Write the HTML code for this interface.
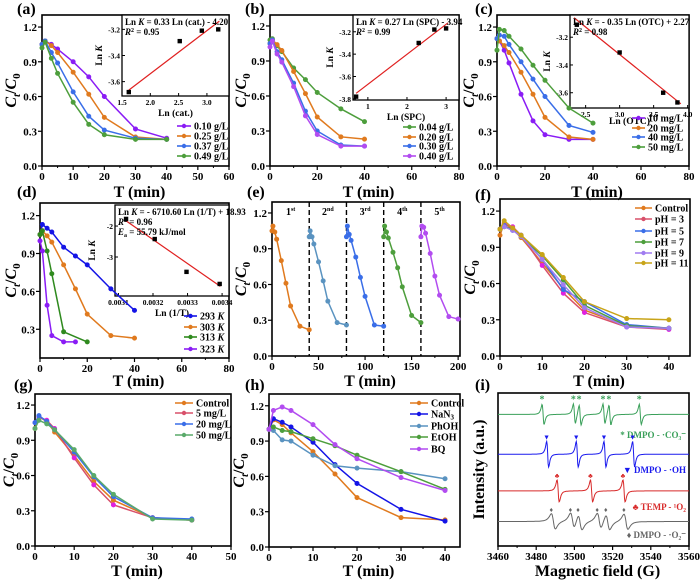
<!DOCTYPE html>
<html><head><meta charset="utf-8">
<style>
html,body{margin:0;padding:0;background:#fff;}
svg{display:block;font-family:"Liberation Serif",serif;font-weight:bold;}
</style></head>
<body>
<svg id="fig" width="700" height="581" viewBox="0 0 700 581" xmlns="http://www.w3.org/2000/svg"></svg>
<script>
// ---------- data ----------
const tStd = [0,1,3,5,10,15,20,30,40];
// (a) catalyst dosage
const aLabels = ["0.10 g/L","0.25 g/L","0.37 g/L","0.49 g/L"];
const a1 = [1.05,1.08,1.05,1.01,0.90,0.77,0.60,0.32,0.24];
const a2 = [1.05,1.08,1.04,0.98,0.81,0.62,0.42,0.25,0.23];
const a3 = [1.05,1.08,0.98,0.89,0.64,0.43,0.31,0.24,0.23];
const a4 = [1.02,1.07,0.93,0.80,0.55,0.36,0.27,0.23,0.23];
const aInsetX = [1.62,2.52,2.91,3.20];
const aInsetY = [-3.68,-3.29,-3.21,-3.20];
const aFitX = [1.62,3.22];
const aFitY = [-3.665,-3.137];
// (b) SPC
const bLabels = ["0.04 g/L","0.20 g/L","0.30 g/L","0.40 g/L"];
const b1 = [1.08,1.09,1.03,0.98,0.84,0.74,0.63,0.49,0.38];
const b2 = [1.05,1.08,1.04,0.99,0.81,0.62,0.42,0.25,0.23];
const b3 = [1.05,1.08,0.98,0.91,0.71,0.47,0.30,0.18,0.17];
const b4 = [1.02,1.07,0.96,0.89,0.68,0.43,0.27,0.17,0.17];
const bInsetX = [0.70,2.30,2.70,3.00];
const bInsetY = [-3.78,-3.30,-3.18,-3.17];
const bFitX = [0.70,3.05];
const bFitY = [-3.75,-3.12];
// (c) OTC
const cLabels = ["10 mg/L","20 mg/L","40 mg/L","50 mg/L"];
const c1 = [1.10,1.08,1.00,0.89,0.62,0.39,0.27,0.23,0.23];
const c2 = [1.10,1.08,1.04,0.98,0.81,0.62,0.42,0.25,0.23];
const c3 = [1.10,1.13,1.12,1.05,0.90,0.75,0.60,0.35,0.29];
const c4 = [1.00,1.18,1.17,1.12,1.01,0.87,0.74,0.50,0.37];
const cInsetX = [2.37,3.00,3.64,3.85];
const cInsetY = [-3.11,-3.31,-3.60,-3.67];
const cFitX = [2.33,3.90];
const cFitY = [-3.06,-3.68];
// (d) temperature
const dLabels = ["293 K","303 K","313 K","323 K"];
const dT1 = [0,1,3,5,10,15,20,30,40];
const d1 = [1.05,1.13,1.10,1.07,0.95,0.88,0.81,0.62,0.45];
const dT2 = [0,1,3,5,10,15,20,30,40];
const d2 = [1.05,1.08,1.04,0.99,0.81,0.62,0.42,0.25,0.23];
const dT3 = [0,1,3,5,10,20];
const d3 = [1.05,1.08,0.92,0.74,0.28,0.20];
const dT4 = [0,1,3,5,10,15];
const d4 = [1.00,0.92,0.49,0.25,0.20,0.20];
const dInsetX = [0.003122,0.003205,0.003297,0.003393];
const dInsetY = [-1.77,-2.42,-3.48,-3.87];
const dFitX = [0.003118,0.003395];
const dFitY = [-1.80,-3.95];
// (e) cycles
const eOffsets = [0,40,80,120,160];
const eCycleLabels = ["1","2","3","4","5"];
const eCycleSup = ["st","nd","rd","th","th"];
const e1 = [1.05,1.09,1.04,0.98,0.80,0.61,0.42,0.25,0.22];
const e2 = [1.00,1.05,1.00,0.94,0.79,0.63,0.46,0.28,0.26];
const e3 = [1.00,1.09,1.02,0.97,0.83,0.66,0.50,0.26,0.25];
const e4 = [1.00,1.09,1.04,0.99,0.87,0.74,0.58,0.34,0.28];
const e5 = [1.00,1.09,1.08,1.03,0.86,0.67,0.51,0.33,0.31];
// (f) pH
const fLabels = ["Control","pH = 3","pH = 5","pH = 7","pH = 9","pH = 11"];
const f1 = [1.00,1.10,1.05,0.98,0.77,0.56,0.38,0.25,0.23];
const f2 = [1.05,1.09,1.07,1.00,0.75,0.52,0.36,0.24,0.22];
const f3 = [1.05,1.08,1.04,1.00,0.80,0.55,0.45,0.26,0.23];
const f4 = [1.05,1.07,1.05,0.99,0.83,0.63,0.42,0.25,0.23];
const f5 = [1.05,1.07,1.04,0.99,0.80,0.59,0.40,0.24,0.23];
const f6 = [1.05,1.12,1.06,1.00,0.84,0.65,0.45,0.31,0.30];
// (g) anions
const gLabels = ["Control","5 mg/L","20 mg/L","50 mg/L"];
const g1 = [1.00,1.10,1.06,0.97,0.77,0.55,0.39,0.24,0.22];
const g2 = [1.05,1.10,1.07,1.00,0.75,0.52,0.35,0.24,0.22];
const g3 = [1.05,1.11,1.06,0.99,0.80,0.59,0.42,0.24,0.23];
const g4 = [1.00,1.07,1.04,0.99,0.82,0.60,0.44,0.23,0.22];
// (h) scavengers
const hLabels = ["Control","NaN3","PhOH","EtOH","BQ"];
const h1 = [1.00,1.08,1.04,0.97,0.81,0.62,0.42,0.25,0.23];
const h2 = [1.00,1.09,1.06,1.02,0.89,0.70,0.54,0.32,0.22];
const h3 = [1.00,0.99,0.91,0.90,0.78,0.69,0.67,0.64,0.58];
const h4 = [1.00,1.02,0.99,0.98,0.92,0.86,0.78,0.64,0.49];
const h5 = [1.00,1.16,1.19,1.16,1.04,0.87,0.75,0.59,0.48];
// (i) EPR
const iGreenPeaks = [3483.6,3500,3503,3515.5,3518.6,3534.5];
const iBluePeaks = [3486,3501.5,3516,3531];
const iRedPeaks = [3491.5,3509,3526];
const iGrayPeaks = [3489,3499,3503,3513,3517.5,3527];
const iBaselines = [4.3,3.0,1.8,0.8];
const iAmps = [0.33,0.42,0.36,0.25];
const iWidths = [0.9,0.9,1.0,1.8];
const iLabY = [3.63,2.48,1.27,0.36];

// ---------- helpers ----------
const NS = "http://www.w3.org/2000/svg";
const svg = document.getElementById("fig");
function el(tag, attrs, parent){
  const e = document.createElementNS(NS, tag);
  for (const k in attrs) e.setAttribute(k, attrs[k]);
  (parent||svg).appendChild(e);
  return e;
}
function txt(s, x, y, size, anchor, parent, fill){
  const t = el("text", {x:x, y:y, "font-size":size, "text-anchor":anchor||"middle", fill:fill||"#000"}, parent);
  t.textContent = s;
  return t;
}
function lin(d0,d1,r0,r1){ return v => r0 + (v-d0)*(r1-r0)/(d1-d0); }

function panel(name, cfg){
  const g = el("g", {});
  
  
  const X = lin(cfg.xd[0], cfg.xd[1], cfg.l, cfg.r);
  const Y = lin(cfg.yd[0], cfg.yd[1], cfg.b, cfg.t);
  cfg.xt.forEach((v,i)=>{
    const x = X(v);
    el("line",{x1:x,x2:x,y1:cfg.b,y2:cfg.b+4,stroke:"#000","stroke-width":1.2},g);
    const lab = txt(cfg.xtl ? cfg.xtl[i] : String(v), x, cfg.b+14, 11, "middle", g);
    
    
  });
  cfg.xt.forEach((v,i)=>{
    if(i<cfg.xt.length-1){ const x = X((v+cfg.xt[i+1])/2);
      el("line",{x1:x,x2:x,y1:cfg.b,y2:cfg.b+2,stroke:"#000","stroke-width":1},g);}
  });
  if (cfg.yt) cfg.yt.forEach((v,i)=>{
    const y = Y(v);
    el("line",{x1:cfg.l-4,x2:cfg.l,y1:y,y2:y,stroke:"#000","stroke-width":1.2},g);
    const lab = txt(v.toFixed(1), cfg.l-5, y+4, 11, "end", g);
    
    
  });
  const fr = el("rect",{x:cfg.l,y:cfg.t,width:cfg.r-cfg.l,height:cfg.b-cfg.t,fill:"none",stroke:"#000","stroke-width":1.6},g);
  
  
  const pl = txt(cfg.letter, cfg.lx, cfg.ly, 16, "start", g);
  
  
  const xl = txt(cfg.xlabel||"T (min)", (cfg.l+cfg.r)/2+4, cfg.xly, 16, "middle", g);
  
  
  const yl = el("text",{transform:`translate(${cfg.ylx},${(cfg.t+cfg.b)/2}) rotate(-90)`,"font-size":16,"text-anchor":"middle"},g);
  
  
  if (cfg.ylabel) { yl.textContent = cfg.ylabel; }
  else {
    yl.innerHTML = '<tspan font-style="italic">C</tspan><tspan font-style="italic" font-size="11" dy="4">t</tspan><tspan dy="-4">/</tspan><tspan font-style="italic">C</tspan><tspan font-size="11" dy="4">0</tspan>';
  }
  return {g, X, Y};
}

function series(p, xs, ys, color, name, mcolor){
  const pts = xs.map((x,i)=>[p.X(x), p.Y(ys[i])]);
  const pl = el("polyline",{points:pts.map(q=>q.join(",")).join(" "),fill:"none",stroke:color,"stroke-width":1.5},p.g);
  
  
  pts.forEach(q=>{
    const c = el("circle",{cx:q[0],cy:q[1],r:2.2,fill:mcolor||color,stroke:mcolor||color,"stroke-width":0.6},p.g);
    
    
  });
}

function legend(p, labels, colors, x1, x2, ys, name){
  labels.forEach((s,i)=>{
    const y = ys[i];
    const ln = el("line",{x1:x1,x2:x2,y1:y,y2:y,stroke:colors[i],"stroke-width":1.6},p.g);
    
    
    el("circle",{cx:(x1+x2)/2,cy:y,r:2.2,fill:colors[i]},p.g);
    const t = txt("", x2+3, y+3.5, 10, "start", p.g);
    
    
    if (s==="NaN3") t.innerHTML = 'NaN<tspan font-size="7" dy="2">3</tspan>';
    else if (/ K$/.test(s)) t.innerHTML = s.slice(0,-1)+'<tspan font-style="italic">K</tspan>';
    else t.textContent = s;
  });
}

function inset(p, cfg){
  const g = el("g",{},p.g);
  
  
  el("rect",{x:cfg.l,y:cfg.t,width:cfg.r-cfg.l,height:cfg.b-cfg.t,fill:"#fff",stroke:"#000","stroke-width":1.3},g);
  const X = lin(cfg.xd[0],cfg.xd[1],cfg.l,cfg.r);
  const Y = lin(cfg.yd[0],cfg.yd[1],cfg.b,cfg.t);
  cfg.xt.forEach((v,i)=>{
    const x=X(v);
    el("line",{x1:x,x2:x,y1:cfg.b,y2:cfg.b-3,stroke:"#000","stroke-width":1},g);
    txt(cfg.xtl[i], x, cfg.b+9, 7.5, "middle", g);
  });
  cfg.yt.forEach((v,i)=>{
    const y=Y(v);
    el("line",{x1:cfg.l,x2:cfg.l+3,y1:y,y2:y,stroke:"#000","stroke-width":1},g);
    txt(cfg.ytl[i], cfg.l-2, y+3, 7.5, "end", g);
  });
  const fit = el("line",{x1:X(cfg.fx[0]),y1:Y(cfg.fy[0]),x2:X(cfg.fx[1]),y2:Y(cfg.fy[1]),stroke:"#e02020","stroke-width":1.2},g);
  
  
  cfg.px.forEach((x,i)=>{
    const s = el("rect",{x:X(x)-2.2,y:Y(cfg.py[i])-2.2,width:4.4,height:4.4,fill:"#000"},g);
    
    
  });
  const xl = txt(cfg.xlabel, (cfg.l+cfg.r)/2, cfg.b+(cfg.xlo||20), 9.5, "middle", g);
  
  
  const yl = el("text",{transform:`translate(${cfg.l-20},${(cfg.t+cfg.b)/2}) rotate(-90)`,"font-size":9.5,"text-anchor":"middle"},g);
  yl.innerHTML = 'Ln <tspan font-style="italic">K</tspan>';
  
  
  cfg.eq.forEach((s,i)=>{
    const t = el("text",{x:cfg.l+3,y:cfg.t+10+i*10,"font-size":9},g);
    t.innerHTML = s;
    
    
  });
}

const COL = {purple:"#8a1cf5",orange:"#e07a1e",blue:"#3a6ee8",green:"#4d9e3c",violet:"#b24cf0",steel:"#5a93c0",navy:"#1414e6",pink:"#d8506a",magenta:"#e020e0",lav:"#a07cf0",olive:"#c8a418"};

// ---------- (a) ----------
let p = panel("panel-a",{l:42,r:229,t:15,b:166,xd:[0,60],yd:[0,1.304],xt:[0,10,20,30,40,50,60],yt:[0,0.3,0.6,0.9,1.2],letter:"(a)",lx:17,ly:14,xly:197,ylx:16});
inset(p,{l:122,r:229,t:15,b:96,xd:[1.5,3.39],yd:[-3.71,-3.09],xt:[1.5,2.0,2.5,3.0],xtl:["1.5","2.0","2.5","3.0"],yt:[-3.2,-3.4,-3.6],ytl:["-3.2","-3.4","-3.6"],fx:aFitX,fy:aFitY,px:aInsetX,py:aInsetY,xlabel:"Ln (cat.)",eq:['Ln <tspan font-style="italic">K</tspan> = 0.33 Ln (cat.) - 4.20','<tspan font-style="italic">R</tspan><tspan font-size="6" dy="-3">2</tspan><tspan dy="3"> = 0.95</tspan>']});
series(p,tStd,a1,COL.purple,"a-0.10");
series(p,tStd,a2,COL.orange,"a-0.25");
series(p,tStd,a3,COL.blue,"a-0.37");
series(p,tStd,a4,COL.green,"a-0.49");
legend(p,aLabels,[COL.purple,COL.orange,COL.blue,COL.green],177,191,[126,136,146,156],"a");

// ---------- (b) ----------
p = panel("panel-b",{l:270,r:459,t:15,b:166,xd:[0,80],yd:[0,1.294],xt:[0,20,40,60,80],yt:[0,0.3,0.6,0.9,1.2],letter:"(b)",lx:245,ly:14,xly:197,ylx:246});
inset(p,{l:353,r:459,t:15,b:100,xd:[0.62,3.33],yd:[-3.81,-3.05],xt:[1,2,3],xtl:["1","2","3"],yt:[-3.2,-3.4,-3.6,-3.8],ytl:["-3.2","-3.4","-3.6","-3.8"],fx:bFitX,fy:bFitY,px:bInsetX,py:bInsetY,xlabel:"Ln (SPC)",eq:['Ln <tspan font-style="italic">K</tspan> = 0.27 Ln (SPC) - 3.94','<tspan font-style="italic">R</tspan><tspan font-size="6" dy="-3">2</tspan><tspan dy="3"> = 0.99</tspan>']});
series(p,tStd,b1,COL.green,"b-0.04");
series(p,tStd,b2,COL.orange,"b-0.20");
series(p,tStd,b3,COL.blue,"b-0.30");
series(p,tStd,b4,COL.violet,"b-0.40");
legend(p,bLabels,[COL.green,COL.orange,COL.blue,COL.violet],403,416,[127,137,146,156],"b");

// ---------- (c) ----------
p = panel("panel-c",{l:497,r:689,t:15,b:166,xd:[0,80],yd:[0,1.304],xt:[0,20,40,60,80],yt:[0,0.3,0.6,0.9,1.2],letter:"(c)",lx:475,ly:14,xly:197,ylx:474});
inset(p,{l:570,r:689,t:15,b:108,xlo:16,xd:[2.27,4.02],yd:[-3.71,-3.04],xt:[2.5,3.0,3.5,4.0],xtl:["2.5","3.0","3.5","4.0"],yt:[-3.2,-3.4,-3.6],ytl:["-3.2","-3.4","-3.6"],fx:cFitX,fy:cFitY,px:cInsetX,py:cInsetY,xlabel:"Ln (OTC)",eq:['Ln <tspan font-style="italic">K</tspan> = - 0.35 Ln (OTC) + 2.27','<tspan font-style="italic">R</tspan><tspan font-size="6" dy="-3">2</tspan><tspan dy="3"> = 0.98</tspan>']});
series(p,tStd,c1,COL.purple,"c-10");
series(p,tStd,c2,COL.orange,"c-20");
series(p,tStd,c3,COL.blue,"c-40");
series(p,tStd,c4,COL.green,"c-50");
legend(p,cLabels,[COL.purple,COL.orange,COL.blue,COL.green],632,645,[118,128,137,147],"c");

// ---------- (d) ----------
p = panel("panel-d",{l:40,r:229,t:203,b:358,xd:[0,80],yd:[0.0725,1.3],xt:[0,20,40,60,80],yt:[0.3,0.6,0.9,1.2],letter:"(d)",lx:17,ly:197,xly:386,ylx:16});
inset(p,{l:115,r:229,t:205,b:296,xd:[0.00309,0.00342],yd:[-4.26,-1.32],xt:[0.0031,0.0032,0.0033,0.0034],xtl:["0.0031","0.0032","0.0033","0.0034"],yt:[-2,-3],ytl:["-2","-3"],fx:dFitX,fy:dFitY,px:dInsetX,py:dInsetY,xlabel:"Ln (1/T)",eq:['Ln <tspan font-style="italic">K</tspan> = - 6710.60 Ln (1/T) + 18.93','<tspan font-style="italic">R</tspan><tspan font-size="6" dy="-3">2</tspan><tspan dy="3"> = 0.96</tspan>','<tspan font-style="italic">E</tspan><tspan font-size="6" dy="2">a</tspan><tspan dy="-2"> = 55.79 kJ/mol</tspan>']});
series(p,dT1,d1,COL.navy,"d-293K");
series(p,dT2,d2,COL.orange,"d-303K");
series(p,dT3,d3,"#2f8a1e","d-313K");
series(p,dT4,d4,"#8a1cf5","d-323K");
legend(p,dLabels,[COL.navy,COL.orange,"#2f8a1e","#8a1cf5"],184,197,[316,327,337,349],"d");

// ---------- (e) ----------
p = panel("panel-e",{l:272,r:460,t:202,b:356,xd:[0,202],yd:[0,1.292],xt:[0,50,100,150,200],yt:[0,0.3,0.6,0.9,1.2],letter:"(e)",lx:247,ly:197,xly:386,ylx:246});
eOffsets.slice(1).forEach(o=>{
  const d = el("line",{x1:p.X(o),x2:p.X(o),y1:202,y2:356,stroke:"#000","stroke-width":1.4,"stroke-dasharray":"5,3"},p.g);
  
  
});
const eSeries=[e1,e2,e3,e4,e5];
const eCols=[COL.orange,COL.steel,COL.blue,COL.green,COL.violet];
eSeries.forEach((ys,i)=>{
  series(p,tStd.map(t=>t+eOffsets[i]),ys,eCols[i],"e-cycle-"+(i+1));
  const t = el("text",{x:p.X(eOffsets[i]+20),y:p.Y(1.2)+2,"font-size":10,"text-anchor":"middle"},p.g);
  t.innerHTML = eCycleLabels[i]+'<tspan font-size="6" dy="-4">'+eCycleSup[i]+'</tspan>';
  
  
});

// ---------- (f) ----------
p = panel("panel-f",{l:500,r:690,t:199,b:356,xd:[0,45],yd:[0,1.3],xt:[0,10,20,30,40],yt:[0,0.3,0.6,0.9,1.2],letter:"(f)",lx:475,ly:200,xly:386,ylx:475});
const fS=[f1,f2,f3,f4,f5,f6];
const fC=[COL.orange,COL.pink,COL.blue,COL.green,COL.lav,COL.olive];
const fM=[COL.orange,COL.magenta,COL.blue,COL.green,COL.lav,COL.olive];
fS.forEach((ys,i)=>series(p,tStd,ys,fC[i],"f-"+i,fM[i]));
legend(p,fLabels,fC,635,652,[208,219,231,242,253,263],"f");

// ---------- (g) ----------
p = panel("panel-g",{l:35,r:231,t:394,b:546,xd:[0,50],yd:[0,1.294],xt:[0,10,20,30,40,50],yt:[0,0.3,0.6,0.9,1.2],letter:"(g)",lx:14,ly:390,xly:576,ylx:14});
const gS=[g1,g2,g3,g4];
const gC=[COL.orange,COL.pink,COL.blue,"#5aaa6a"];
const gM=[COL.orange,COL.magenta,COL.blue,"#5aaa6a"];
gS.forEach((ys,i)=>series(p,tStd,ys,gC[i],"g-"+i,gM[i]));
legend(p,gLabels,gC,175,193,[403,413,424,435],"g");

// ---------- (h) ----------
p = panel("panel-h",{l:269,r:460,t:394,b:547,xd:[0,43.4],yd:[0,1.3],xt:[0,10,20,30,40],yt:[0,0.3,0.6,0.9,1.2],letter:"(h)",lx:245,ly:390,xly:576,ylx:244});
const hS=[h1,h2,h3,h4,h5];
const hC=[COL.orange,COL.navy,COL.steel,COL.green,COL.violet];
hS.forEach((ys,i)=>series(p,tStd,ys,hC[i],"h-"+i));
legend(p,hLabels,hC,410,428,[403,414,426,437,449],"h");

// ---------- (i) ----------
p = panel("panel-i",{l:498,r:689,t:393,b:546,xd:[3460,3560],yd:[0,5],xt:[3460,3480,3500,3520,3540,3560],yt:null,letter:"(i)",lx:475,ly:390,xly:576,ylx:484,xlabel:"Magnetic field (G)",ylabel:"Intensity (a.u.)"});
const iPeaks=[iGreenPeaks,iBluePeaks,iRedPeaks,iGrayPeaks];
const iCols=["#3aa05a","#1a1aee","#d82a2a","#666666"];
const iMarks=["*","▼","♣","♦"];
const iNames=["DMPO - ·CO₃⁻","DMPO - ·OH","TEMP - ¹O₂","DMPO - ·O₂⁻"];
iPeaks.forEach((pk,k)=>{
  const pts=[];
  for(let f=3460; f<=3560; f+=0.25){
    let v=iBaselines[k];
    pk.forEach(c=>{const u=(f-c)/iWidths[k]; v+= iAmps[k]*(-2*u/Math.pow(1+u*u,2))/0.6495;});
    pts.push(p.X(f).toFixed(1)+","+p.Y(v).toFixed(1));
  }
  const pl=el("polyline",{points:pts.join(" "),fill:"none",stroke:iCols[k],"stroke-width":1},p.g);
  
  
  pk.forEach(c=>{
    const m=txt(iMarks[k],p.X(c-iWidths[k]*0.6),p.Y(iBaselines[k]+iAmps[k])-2,k===0?10:7,"middle",p.g,iCols[k]);
    
    
  });
  const lb=txt(iMarks[k]+" "+iNames[k],686,p.Y(iLabY[k])+3,9,"end",p.g,iCols[k]);
  
  
});
</script>
</body></html>
